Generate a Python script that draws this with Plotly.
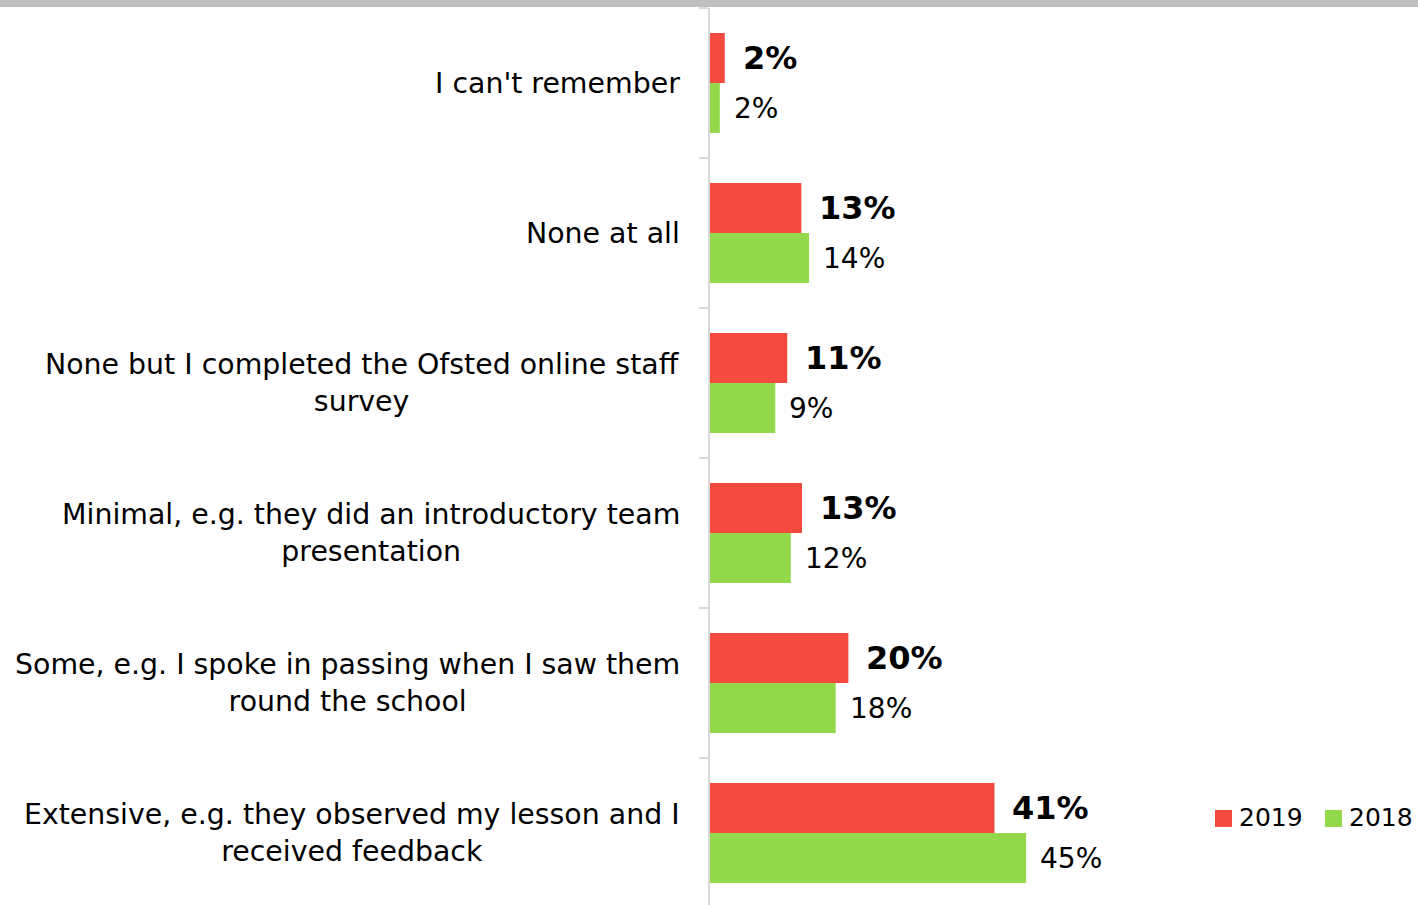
import plotly.graph_objects as go

categories = [
    "I can't remember",
    "None at all",
    "None but I completed the Ofsted online staff<br>survey",
    "Minimal, e.g. they did an introductory team<br>presentation",
    "Some, e.g. I spoke in passing when I saw them<br>round the school",
    "Extensive, e.g. they observed my lesson and I<br>received feedback",
]
series_names = ["2019", "2018"]
values_2019 = [2.1, 13.0, 11.0, 13.1, 19.7, 40.5]
values_2018 = [1.4, 14.1, 9.3, 11.5, 17.9, 45.0]
labels_2019 = ["2%", "13%", "11%", "13%", "20%", "41%"]
labels_2018 = ["2%", "14%", "9%", "12%", "18%", "45%"]

RED = "#F44A3F"
GREEN = "#92D84A"
FONT = "DejaVu Sans"

fig = go.Figure()
fig.add_trace(go.Bar(y=categories, x=values_2019, orientation="h", name=series_names[0],
                     marker=dict(color=RED, line=dict(width=0)), hoverinfo="skip",
                     showlegend=False))
fig.add_trace(go.Bar(y=categories, x=values_2018, orientation="h", name=series_names[1],
                     marker=dict(color=GREEN, line=dict(width=0)), hoverinfo="skip",
                     showlegend=False))

annotations = []
for c, v, t in zip(categories, values_2019, labels_2019):
    annotations.append(dict(x=v, y=c, xref="x", yref="y", text="<b>%s</b>" % t,
                            showarrow=False, xanchor="left", yanchor="middle",
                            xshift=16, yshift=25,
                            font=dict(family=FONT, size=32, color="#000000")))
for c, v, t in zip(categories, values_2018, labels_2018):
    annotations.append(dict(x=v, y=c, xref="x", yref="y", text=t,
                            showarrow=False, xanchor="left", yanchor="middle",
                            xshift=12, yshift=-25,
                            font=dict(family=FONT, size=28, color="#000000")))
for c in categories:
    annotations.append(dict(x=0, y=c, xref="x", yref="y", text=c,
                            showarrow=False, xanchor="right", yanchor="middle",
                            align="center", xshift=-28,
                            font=dict(family=FONT, size=28.4, color="#000000")))

# manual legend (plot-area paper coords)
legend_items = [(series_names[0], RED, 0.7133, 0.7486), (series_names[1], GREEN, 0.8686, 0.9040)]
shapes = [dict(type="rect", xref="paper", yref="paper", x0=-1.2, x1=1.2,
               y0=1.0 + 1/897, y1=1.0 + 8/897, fillcolor="#C0C0C0",
               line=dict(width=0), layer="above")]
for name, col, sx, tx in legend_items:
    shapes.append(dict(type="rect", xref="paper", yref="paper", x0=sx, x1=sx + 0.024,
                       y0=0.0870, y1=0.1059, fillcolor=col, line=dict(width=0)))
    annotations.append(dict(x=tx, y=0.0970, xref="paper", yref="paper", text=name,
                            showarrow=False, xanchor="left", yanchor="middle", xshift=-3,
                            font=dict(family=FONT, size=25, color="#000000")))

fig.update_layout(
    width=1418, height=905,
    margin=dict(l=710, r=0, t=8, b=0),
    paper_bgcolor="white", plot_bgcolor="white",
    barmode="group", bargap=1/3, bargroupgap=0,
    showlegend=False,
    xaxis=dict(range=[0, 100.8], showgrid=False, zeroline=False, showticklabels=False,
               showline=False, ticks=""),
    yaxis=dict(categoryorder="array", categoryarray=categories,
               range=[5.48, -0.5], showgrid=False, zeroline=False,
               showticklabels=False, showline=True, linecolor="#D9D9D9", linewidth=2,
               ticks="outside", tickson="boundaries", ticklen=9, tickcolor="#D9D9D9",
               tickwidth=2),
    annotations=annotations,
    shapes=shapes,
)

fig.write_html("out.html", config={"displayModeBar": False},
               post_script="document.body.style.margin='0px';")
